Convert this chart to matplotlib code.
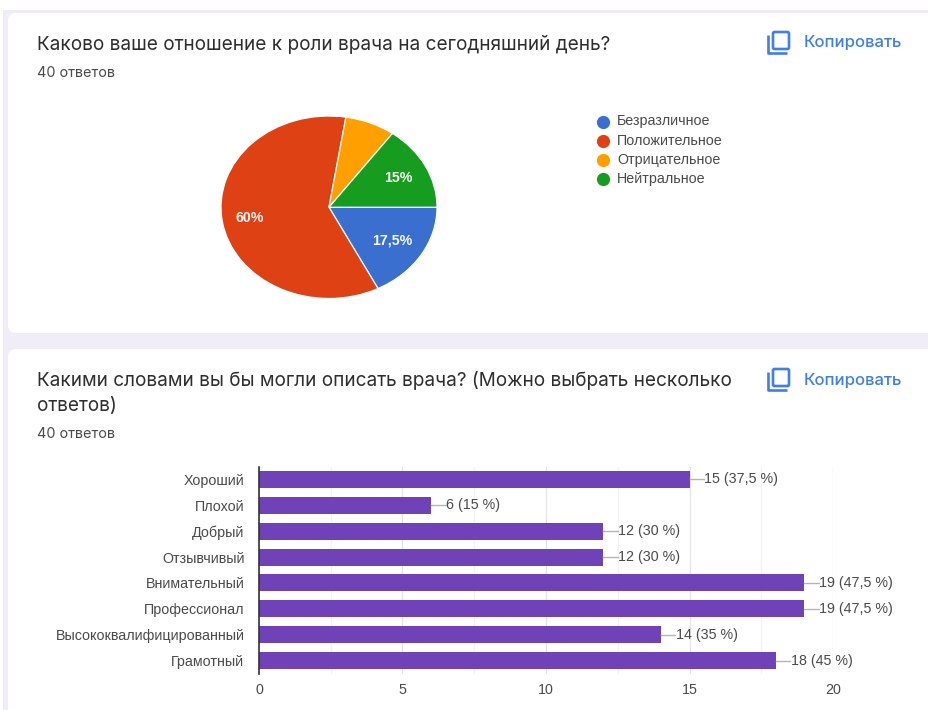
import matplotlib
matplotlib.use("Agg")
import matplotlib.pyplot as plt
from matplotlib.patches import FancyBboxPatch, Rectangle

plt.rcParams["font.family"] = ["Inter", "DejaVu Sans"]

W, H = 929, 710

TITLE_PIE = "Каково ваше отношение к роли врача на сегодняшний день?"
TITLE_BAR = "Какими словами вы бы могли описать врача? (Можно выбрать несколько\nответов)"
ANSWERS = "40 ответов"
COPY = "Копировать"

pie_labels = ["Безразличное", "Положительное", "Отрицательное", "Нейтральное"]
pie_values = [17.5, 60, 7.5, 15]
pie_texts = ["17,5%", "60%", "", "15%"]
pie_colors = ["#3a6fd0", "#dd4114", "#ff9f00", "#169c1f"]

bar_labels = ["Хороший", "Плохой", "Добрый", "Отзывчивый", "Внимательный",
              "Профессионал", "Высококвалифицированный", "Грамотный"]
bar_values = [15, 6, 12, 12, 19, 19, 14, 18]
bar_notes = ["15 (37,5 %)", "6 (15 %)", "12 (30 %)", "12 (30 %)", "19 (47,5 %)",
             "19 (47,5 %)", "14 (35 %)", "18 (45 %)"]
x_ticks = [0, 5, 10, 15, 20]
x_minor = [2.5, 7.5, 12.5, 17.5]

BLUE = "#3f7fe6"
DARK = "#2e2e2e"
GREY = "#4a4a4a"
PURPLE = "#6f42b8"
ARIAL = ["Liberation Sans", "DejaVu Sans"]
TITLE_SIZE = 13.65
SMALL_SIZE = 10.4
CHART_SIZE = 10.3


def axes_px(fig, left, top, right, bottom):
    return fig.add_axes([left / W, 1 - bottom / H, (right - left) / W, (bottom - top) / H])


fig = plt.figure(figsize=(W / 100, H / 100), dpi=100, facecolor="white")

# page background and cards, in pixels
bg = fig.add_axes([0, 0, 1, 1], zorder=0)
bg.set_xlim(0, W)
bg.set_ylim(H, 0)
bg.axis("off")
bg.add_patch(Rectangle((3, 10), W, H, fc="#f0edf8", ec="none"))
for top, bottom in [(13, 333), (349, H + 30)]:
    bg.add_patch(FancyBboxPatch((8 + 8, top + 8), W + 40, bottom - top - 16,
                                boxstyle="round,pad=8,rounding_size=8",
                                fc="white", ec="none"))

bg.text(37, 44, TITLE_PIE, fontsize=TITLE_SIZE, color=DARK, va="center")
bg.text(37, 73, ANSWERS, fontsize=SMALL_SIZE, color=GREY, va="center")
bg.text(37, 380.5, TITLE_BAR.split("\n")[0], fontsize=TITLE_SIZE, color=DARK, va="center")
bg.text(37, 405.5, TITLE_BAR.split("\n")[1], fontsize=TITLE_SIZE, color=DARK, va="center")
bg.text(37, 433.5, ANSWERS, fontsize=SMALL_SIZE, color=GREY, va="center")

# copy icons
for dy in [0, 337]:
    bg.add_patch(FancyBboxPatch((773, 32 + dy), 16, 17, boxstyle="round,pad=0,rounding_size=1.5",
                                fc="none", ec=BLUE, lw=1.9))
    bg.plot([768.5, 768.5, 787], [35 + dy, 52.5 + dy, 52.5 + dy], color=BLUE, lw=1.9,
            solid_capstyle="butt")
    bg.text(804, 43 + dy, COPY, fontsize=12, color=BLUE, va="center", fontweight="medium")

# pie, stretched a bit wider than tall like the reference
ax_pie = axes_px(fig, 221, 116, 437, 298.5)
wedges, _ = ax_pie.pie(pie_values, colors=pie_colors, startangle=0, counterclock=False,
                       radius=1, wedgeprops=dict(edgecolor="white", linewidth=0.9))
ax_pie.set_aspect("auto")
ax_pie.set_xlim(-1, 1)
ax_pie.set_ylim(-1, 1)
for txt, pos in zip(pie_texts, [(0.585, -0.365), (-0.73, -0.115), (0, 0), (0.64, 0.32)]):
    if txt:
        ax_pie.text(pos[0], pos[1], txt, color="white", fontsize=10.2, fontweight="bold",
                    family=ARIAL, ha="center", va="center", alpha=0.95)

# legend
for i, (lab, col) in enumerate(zip(pie_labels, pie_colors)):
    y = 121.5 + i * 19.3
    bg.plot([603], [y], "o", ms=9.5, color=col, mec="none")
    bg.text(617, y, lab, fontsize=CHART_SIZE, color=GREY, va="center", family=ARIAL)

# bars
ax_bar = axes_px(fig, 259, 466.5, 833, 673.5)
ax_bar.set_zorder(1)
ax_bar.patch.set_alpha(0)
y_pos = list(range(len(bar_values)))
ax_bar.barh(y_pos, bar_values, height=0.655, color=PURPLE, zorder=3)
ax_bar.set_xlim(0, 20)
ax_bar.set_ylim(len(bar_values) - 0.5, -0.5)
ax_bar.set_yticks(y_pos)
ax_bar.set_yticklabels(bar_labels, fontsize=CHART_SIZE, color=GREY, family=ARIAL)
ax_bar.set_xticks(x_ticks)
ax_bar.set_xticklabels([str(t) for t in x_ticks], fontsize=CHART_SIZE, color=GREY, family=ARIAL)
ax_bar.set_xticks(x_minor, minor=True)
ax_bar.tick_params(axis="both", which="both", length=0)
ax_bar.tick_params(axis="x", pad=6.5)
ax_bar.tick_params(axis="y", pad=10.5)
ax_bar.grid(True, axis="x", which="major", color="#e4e4e4", lw=0.9, zorder=0)
ax_bar.grid(True, axis="x", which="minor", color="#f3f3f3", lw=0.9, zorder=0)
for side in ["top", "right", "bottom"]:
    ax_bar.spines[side].set_visible(False)
ax_bar.spines["left"].set_color("#333333")
ax_bar.spines["left"].set_linewidth(1.2)
ax_bar.spines["left"].set_zorder(4)
for y, v, note in zip(y_pos, bar_values, bar_notes):
    ax_bar.plot([v, v + 0.5], [y, y], color="#b5b5b5", lw=1, zorder=3, clip_on=False)
    ax_bar.text(v + 0.52, y, note, fontsize=CHART_SIZE, color=GREY, va="center", zorder=4,
                clip_on=False, family=ARIAL)

fig.savefig("out.png", dpi=100, facecolor="white")
